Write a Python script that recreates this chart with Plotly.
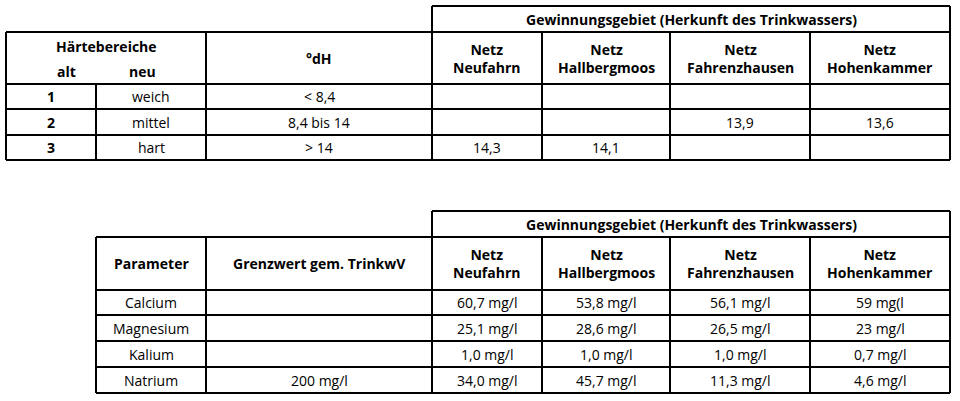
import plotly.graph_objects as go

# ---- data ----
netze = ["Netz<br>Neufahrn", "Netz<br>Hallbergmoos", "Netz<br>Fahrenzhausen", "Netz<br>Hohenkammer"]
group_title = "Gewinnungsgebiet (Herkunft des Trinkwassers)"
haerte_alt = ["1", "2", "3"]
haerte_neu = ["weich", "mittel", "hart"]
haerte_dh = ["< 8,4", "8,4 bis 14", "> 14"]
haerte_werte = [["", "", "", ""], ["", "", "13,9", "13,6"], ["14,3", "14,1", "", ""]]
parameter = ["Calcium", "Magnesium", "Kalium", "Natrium"]
grenzwert = ["", "", "", "200 mg/l"]
param_werte = [["60,7 mg/l", "53,8 mg/l", "56,1 mg/l", "59 mg(l"],
               ["25,1 mg/l", "28,6 mg/l", "26,5 mg/l", "23 mg/l"],
               ["1,0 mg/l", "1,0 mg/l", "1,0 mg/l", "0,7 mg/l"],
               ["34,0 mg/l", "45,7 mg/l", "11,3 mg/l", "4,6 mg/l"]]

FONT = "Open Sans"
FS = 14
shapes, ann = [], []

def line(x0, y0, x1, y1, w=2):
    shapes.append(dict(type="line", xref="x", yref="y", x0=x0, y0=y0, x1=x1, y1=y1,
                       line=dict(color="black", width=w)))

def rect(x0, y0, x1, y1):
    line(x0, y0, x1, y0); line(x1, y0, x1, y1); line(x1, y1, x0, y1); line(x0, y1, x0, y0)

def text(x, y, t, bold=False):
    ann.append(dict(x=x, y=y, xref="x", yref="y", text=f"<b>{t}</b>" if bold else t,
                    showarrow=False, font=dict(family=FONT, size=FS, color="black"),
                    xanchor="center", yanchor="middle"))

ncols = [432, 542, 670, 810, 950]

# ---- table 1 ----
top, h1, rows1 = 6, 32, [84, 109, 135, 160]
rect(432, top, 950, h1)
text(691, (top + h1) / 2, group_title, True)
rect(6, h1, 950, rows1[-1])
for y in rows1[:-1]:
    line(6, y, 950, y)
for x in [206] + ncols[:-1]:
    line(x, h1, x, rows1[-1])
line(96, rows1[0], 96, rows1[-1])
text(106, 46, "Härtebereiche", True)
text(66, 71, "alt", True); text(142, 71, "neu", True)
text(319, 58, "°dH", True)
for i, n in enumerate(netze):
    text((ncols[i] + ncols[i + 1]) / 2, 58, n, True)
for r in range(3):
    yc = (rows1[r] + rows1[r + 1]) / 2
    text(51, yc, haerte_alt[r], True)
    text(151, yc, haerte_neu[r])
    text(319, yc, haerte_dh[r])
    for i in range(4):
        text((ncols[i] + ncols[i + 1]) / 2, yc, haerte_werte[r][i])

# ---- table 2 ----
top2, h2, rows2 = 211, 237, [290, 315, 341, 367, 393]
rect(432, top2, 950, h2)
text(691, (top2 + h2) / 2, group_title, True)
rect(96, h2, 950, rows2[-1])
for y in rows2[:-1]:
    line(96, y, 950, y)
for x in [206] + ncols[:-1]:
    line(x, h2, x, rows2[-1])
text(151, 263, "Parameter", True)
text(319, 263, "Grenzwert gem. TrinkwV", True)
for i, n in enumerate(netze):
    text((ncols[i] + ncols[i + 1]) / 2, 263, n, True)
for r in range(4):
    yc = (rows2[r] + rows2[r + 1]) / 2
    text(151, yc, parameter[r])
    text(319, yc, grenzwert[r])
    for i in range(4):
        text((ncols[i] + ncols[i + 1]) / 2, yc, param_werte[r][i])

fig = go.Figure()
fig.update_layout(width=960, height=401, margin=dict(l=0, r=0, t=0, b=0),
                  plot_bgcolor="white", paper_bgcolor="white",
                  xaxis=dict(range=[0, 960], visible=False, fixedrange=True),
                  yaxis=dict(range=[401, 0], visible=False, fixedrange=True),
                  shapes=shapes, annotations=ann, showlegend=False)
fig.write_html("out.html", config={"displayModeBar": False})
with open("out.html", encoding="utf-8") as f:
    html = f.read()
html = html.replace("<body>", '<body style="margin:0;overflow:hidden">', 1)
with open("out.html", "w", encoding="utf-8") as f:
    f.write(html)
